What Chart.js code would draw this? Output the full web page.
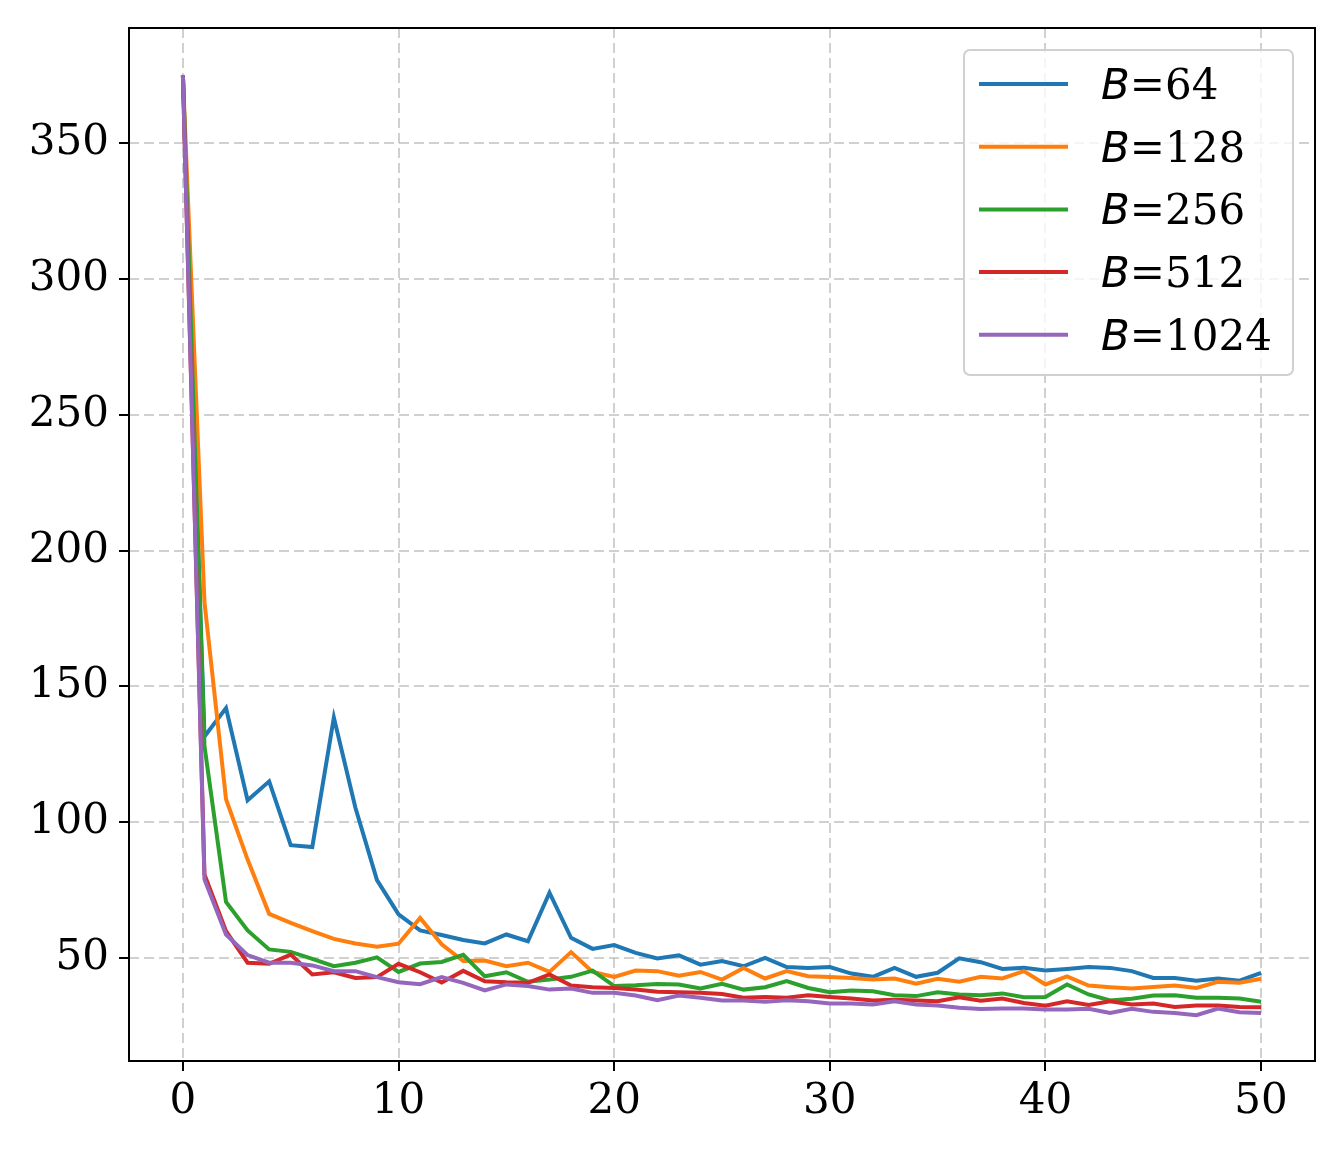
<!DOCTYPE html>
<html>
<head>
<meta charset="utf-8">
<script src="https://cdn.jsdelivr.net/npm/chart.js@4"></script>
<style>
  html, body { margin: 0; padding: 0; background: #fff; }
  #wrap { width: 1344px; height: 1152px; }
</style>
</head>
<body>
<div id="wrap"><canvas id="myChart" width="1344" height="1152"></canvas></div>
<script>
// epochs on the x axis
var epochs = [0,1,2,3,4,5,6,7,8,9,10,11,12,13,14,15,16,17,18,19,20,21,22,23,24,25,
  26,27,28,29,30,31,32,33,34,35,36,37,38,39,40,41,42,43,44,45,46,47,48,49,50];

// one series per batch size
var b64 = [375,131.5,142,108,115,91.5,90.8,138.5,105.3,78.6,66,60.1,58.4,56.6,55.3,58.6,56.1,74,57.4,53.3,
  54.7,51.8,49.8,50.9,47.5,48.8,46.9,50,46.6,46.3,46.6,44.2,43,46.3,43,44.5,49.8,48.4,45.9,46.3,
  45.3,45.9,46.6,46.3,45.1,42.6,42.6,41.6,42.4,41.6,44.5];
var b128 = [375,181,108.4,86.2,66.2,62.9,59.8,57,55.3,54.1,55.2,64.7,55,48.8,49,46.9,48.2,44.8,52.1,44.8,
  43,45.3,45.1,43.4,44.8,42,46.3,42.4,45.1,43.2,42.9,42.6,42,42.4,40.5,42.3,41.2,43,42.4,45.1,
  40.2,43.2,39.8,39.2,38.7,39.3,39.8,38.9,41.2,40.8,42.3];
var b256 = [375,128,70.6,60.1,53.1,52.2,49.6,46.9,48.2,50.2,44.8,47.9,48.5,51.1,43.2,44.7,41.2,42,43,45.3,
  39.6,39.9,40.4,40.2,38.7,40.4,38.3,39.2,41.4,38.9,37.3,38,37.7,36.2,35.9,37.3,36.5,36.2,36.9,35.5,
  35.6,40.2,36.5,34.3,34.9,36.1,36.2,35.3,35.3,35,33.8];
var b512 = [375,80.7,59.8,48.2,47.8,51.2,43.9,44.7,42.6,42.9,47.8,44.7,40.9,45.2,41.4,41,40.8,43.9,39.8,39.2,
  38.9,38.3,37.5,37.3,37.1,36.7,35.3,35.6,35.3,36.2,35.6,35,34.3,34.6,34.3,34,35.5,34.2,35,33.4,
  32.4,34,32.6,34,32.8,33.2,31.9,32.4,32.4,31.9,31.8];
var b1024 = [375,78.9,58.6,51,48.2,48.2,47.2,45.1,45.1,42.9,41,40.3,42.9,40.8,38,40.2,39.6,38.3,38.7,37.1,
  37.1,36.1,34.4,36.1,35.3,34.3,34.3,33.8,34.4,34,33.2,33.2,32.8,34,32.8,32.4,31.6,31.2,31.3,31.3,
  31,31,31.2,29.7,31.2,30.1,29.7,28.9,31.3,30,29.7];

var seriesNames = ["64", "128", "256", "512", "1024"];
var seriesData = [b64, b128, b256, b512, b1024];
var seriesColors = ["#1f77b4", "#ff7f0e", "#2ca02c", "#d62728", "#9467bd"];

var xTickValues = [0, 10, 20, 30, 40, 50];
var yTickValues = [50, 100, 150, 200, 250, 300, 350];

var FONT = "'DejaVu Serif', 'Liberation Serif', serif";
var FSIZE = 42;
var LW = 4;

function toPoints(arr) {
    return arr.map(function (v, i) { return { x: epochs[i], y: v }; });
}

var datasets = seriesData.map(function (arr, i) {
    return {
        label: "B=" + seriesNames[i],
        data: toPoints(arr),
        borderColor: seriesColors[i],
        backgroundColor: seriesColors[i],
        borderWidth: LW,
        pointRadius: 0,
        tension: 0,
        fill: false,
        order: seriesData.length - i // later series on top, like matplotlib
    };
});

// frame around the plot area
var frame = {
    id: "frame",
    afterDatasetsDraw: function (chart) {
        var a = chart.chartArea, c = chart.ctx;
        c.save();
        c.strokeStyle = "#000";
        c.lineWidth = 2;
        c.strokeRect(a.left, a.top, a.right - a.left, a.bottom - a.top);
        c.restore();
    }
};

// legend box in the upper right corner
var boxLegend = {
    id: "boxLegend",
    afterDraw: function (chart) {
        var c = chart.ctx;
        var x0 = 964, y0 = 50, w = 329, h = 325, r = 6;
        c.save();
        c.beginPath();
        c.moveTo(x0 + r, y0);
        c.arcTo(x0 + w, y0, x0 + w, y0 + h, r);
        c.arcTo(x0 + w, y0 + h, x0, y0 + h, r);
        c.arcTo(x0, y0 + h, x0, y0, r);
        c.arcTo(x0, y0, x0 + w, y0, r);
        c.closePath();
        c.fillStyle = "rgba(255,255,255,0.8)";
        c.fill();
        c.strokeStyle = "#d0d0d0";
        c.lineWidth = 2;
        c.stroke();

        chart.data.datasets.forEach(function (ds, i) {
            var y = 84 + i * 62.7;
            c.strokeStyle = ds.borderColor;
            c.lineWidth = LW;
            c.beginPath();
            c.moveTo(979, y);
            c.lineTo(1068, y);
            c.stroke();

            c.fillStyle = "#000";
            c.textBaseline = "alphabetic";
            c.textAlign = "left";
            c.font = "italic " + FSIZE + "px 'DejaVu Sans'";
            c.fillText("B", 1101, y + 15);
            var bw = c.measureText("B").width;
            c.font = FSIZE + "px " + FONT;
            c.fillText("=" + seriesNames[i], 1101 + bw, y + 15);
        });
        c.restore();
    }
};

var gridColor = "rgba(176,176,176,0.6)";

var ctx = document.getElementById("myChart").getContext("2d");
var myChart = new Chart(ctx, {
    type: "line",
    data: { datasets: datasets },
    options: {
        responsive: false,
        animation: false,
        devicePixelRatio: 1,
        layout: { padding: { top: 28, right: 29, left: 0, bottom: 0 } },
        plugins: {
            legend: { display: false },
            tooltip: { enabled: false }
        },
        scales: {
            x: {
                type: "linear",
                min: -2.5,
                max: 52.5,
                afterBuildTicks: function (scale) {
                    scale.ticks = xTickValues.map(function (v) { return { value: v }; });
                },
                afterFit: function (scale) {
                    scale.height = 91;
                    scale.paddingLeft = 0;
                    scale.paddingRight = 0;
                },
                grid: {
                    color: gridColor,
                    lineWidth: 2,
                    drawTicks: true,
                    tickLength: 10,
                    tickColor: "#000",
                    tickWidth: 2
                },
                border: { display: false, dash: [10, 5] },
                ticks: {
                    color: "#000",
                    padding: 6,
                    maxRotation: 0,
                    font: { family: FONT, size: FSIZE }
                }
            },
            y: {
                type: "linear",
                min: 12,
                max: 392.5,
                afterBuildTicks: function (scale) {
                    scale.ticks = yTickValues.map(function (v) { return { value: v }; });
                },
                afterFit: function (scale) {
                    scale.width = 129;
                    scale.paddingTop = 0;
                    scale.paddingBottom = 0;
                },
                grid: {
                    color: gridColor,
                    lineWidth: 2,
                    drawTicks: true,
                    tickLength: 10,
                    tickColor: "#000",
                    tickWidth: 2
                },
                border: { display: false, dash: [10, 5] },
                ticks: {
                    color: "#000",
                    padding: 10,
                    font: { family: FONT, size: FSIZE }
                }
            }
        }
    },
    plugins: [frame, boxLegend]
});
</script>
</body>
</html>
